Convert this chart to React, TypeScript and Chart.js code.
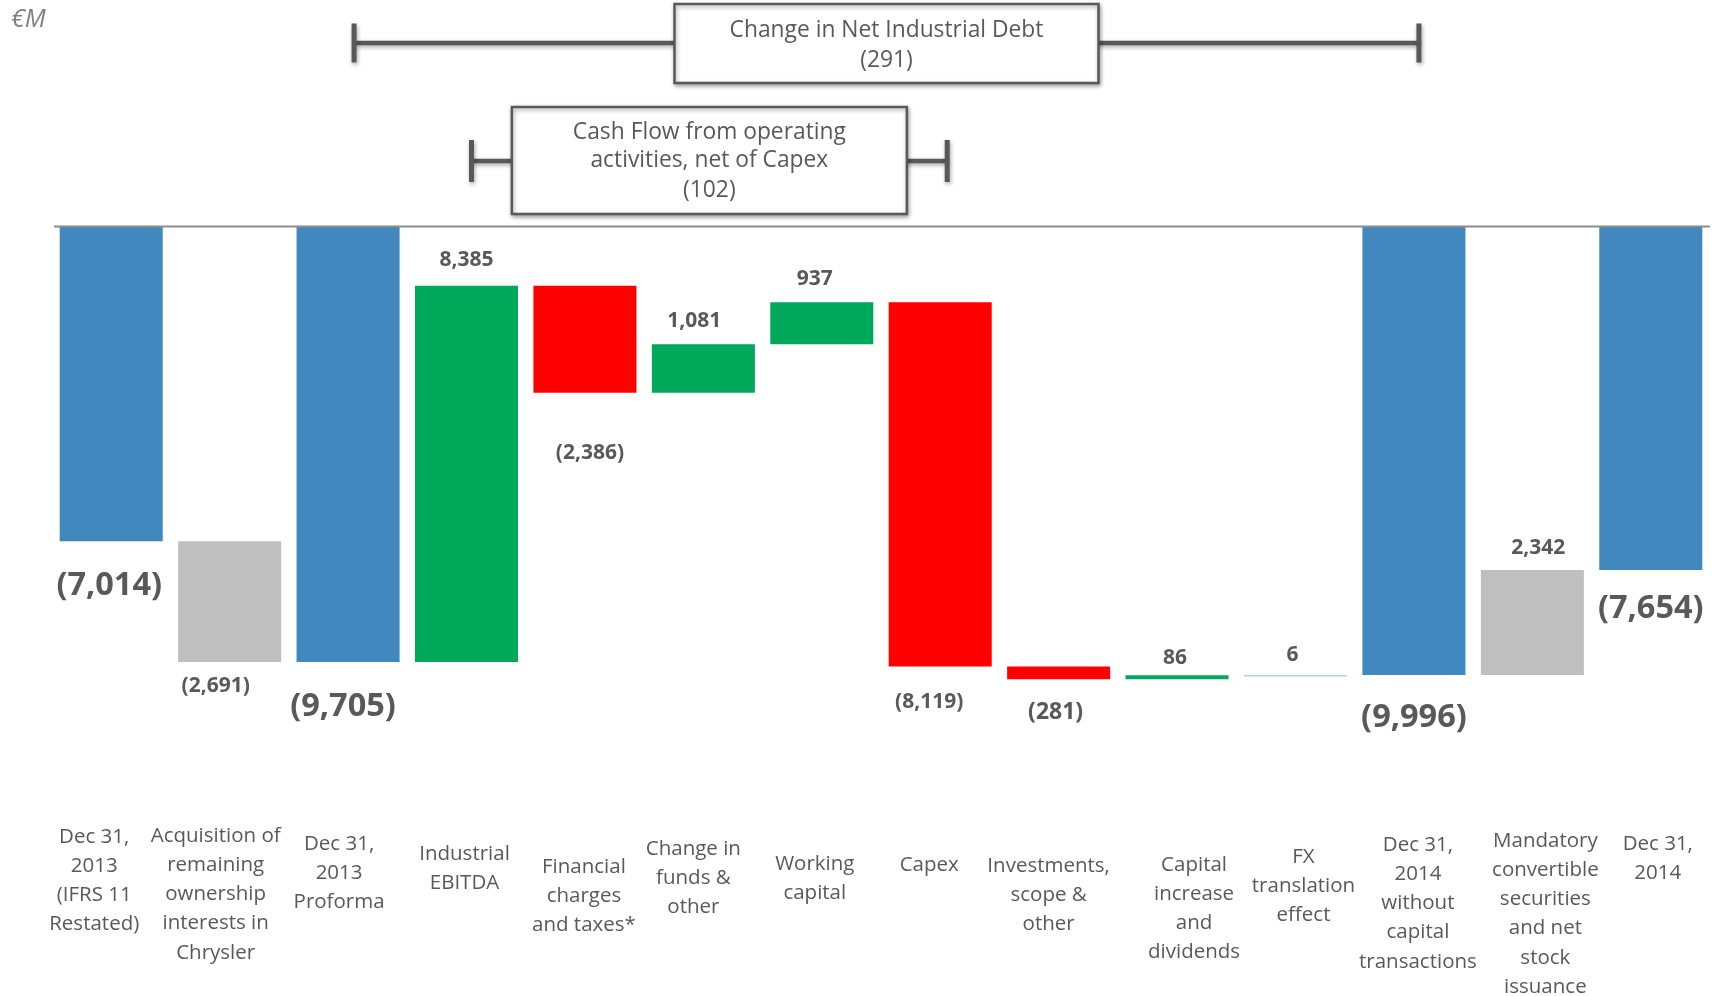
import React, { useEffect, useRef } from "react";
import { Chart, registerables } from "chart.js";

Chart.register(...registerables);

// ---------------- DATA ----------------
const categories: string[][] = [
  ["Dec 31,", "2013", "(IFRS 11", "Restated)"],
  ["Acquisition of", "remaining", "ownership", "interests in", "Chrysler"],
  ["Dec 31,", "2013", "Proforma"],
  ["Industrial", "EBITDA"],
  ["Financial", "charges", "and taxes*"],
  ["Change in", "funds &", "other"],
  ["Working", "capital"],
  ["Capex"],
  ["Investments,", "scope &", "other"],
  ["Capital", "increase", "and", "dividends"],
  ["FX", "translation", "effect"],
  ["Dec 31,", "2014", "without", "capital", "transactions"],
  ["Mandatory", "convertible", "securities", "and net", "stock", "issuance"],
  ["Dec 31,", "2014"],
];

const stepValues: number[] = [-7014, -2691, -9705, 8385, -2386, 1081, 937, -8119, -281, 86, 6, -9996, 2342, -7654];

const stepKinds: string[] = [
  "total", "adjust", "total", "change", "change", "change", "change",
  "change", "change", "change", "change", "total", "adjust", "total",
];

const valueLabels: string[] = [
  "(7,014)", "(2,691)", "(9,705)", "8,385", "(2,386)", "1,081", "937",
  "(8,119)", "(281)", "86", "6", "(9,996)", "2,342", "(7,654)",
];

const bracketOuterTitle: string[] = ["Change in Net Industrial Debt", "(291)"];
const bracketOuterSpan: number[] = [2, 11];
const bracketInnerTitle: string[] = ["Cash Flow from operating", "activities, net of Capex", "(102)"];
const bracketInnerSpan: number[] = [3, 7];

const unitLabel = "€M";

// ---------------- STYLE / LAYOUT ----------------
const BAR_COLORS: string[] = [
  "#4088BE", "#BFBFBF", "#4088BE", "#00A859", "#FF0000", "#00A859", "#00A859",
  "#FF0000", "#FF0000", "#00A859", "#A6DCCB", "#4088BE", "#BFBFBF", "#4088BE",
];
// value label: [dx, dy from bar edge, font size]
const VALUE_LABEL_LAYOUT: number[][] = [
  [-2, 44, 32.5], [-14, 24, 21], [-5, 45, 32.5], [0, -26, 21], [5, 60, 21], [-9, -23, 21], [-7, -23, 21],
  [-11, 35, 21], [-3, 33, 23], [-2, -17, 21], [-3, -20, 21], [0, 43, 32.5], [6, -22, 21], [0, 39, 32.5],
];
// tick label: [dx, y of first line center]
const TICK_LAYOUT: number[][] = [
  [-17, 837], [-14, 836], [-9, 844], [-2, 854], [-1, 867], [-10, 849], [-7, 864],
  [-11, 865], [-10, 866], [17, 865], [8, 857], [4, 845], [13, 841], [7, 844],
];
const TEXT_COLOR = "#595959";
const FONT = "'Open Sans', 'Noto Sans', sans-serif";

function buildRanges(): [number, number][] {
  const out: [number, number][] = [];
  let running = 0;
  stepValues.forEach((v, i) => {
    if (stepKinds[i] === "total") {
      out.push([0, v]);
      running = v;
    } else {
      out.push([running, running + v]);
      running += v;
    }
  });
  return out;
}

const overlayPlugin = {
  id: "overlay",
  afterDatasetsDraw(chart: any) {
    const ctx: CanvasRenderingContext2D = chart.ctx;
    const xs = chart.scales.x;
    const ys = chart.scales.y;
    const area = chart.chartArea;
    const ranges = chart.data.datasets[0].data as [number, number][];

    ctx.save();
    // zero line
    const y0 = ys.getPixelForValue(0);
    ctx.strokeStyle = "#8C8C8C";
    ctx.lineWidth = 2;
    ctx.beginPath();
    ctx.moveTo(area.left + 2, y0);
    ctx.lineTo(area.right, y0);
    ctx.stroke();

    // value labels
    ctx.fillStyle = TEXT_COLOR;
    ctx.textAlign = "center";
    ctx.textBaseline = "middle";
    ranges.forEach((r, i) => {
      const [dx, dy, fs] = VALUE_LABEL_LAYOUT[i];
      const top = ys.getPixelForValue(Math.max(r[0], r[1]));
      const bottom = ys.getPixelForValue(Math.min(r[0], r[1]));
      const edge = dy < 0 ? top : bottom;
      ctx.font = `bold ${fs}px ${FONT}`;
      ctx.fillText(valueLabels[i], xs.getPixelForValue(i) + dx, edge + dy);
    });

    // category labels
    ctx.font = `20.5px ${FONT}`;
    categories.forEach((lines, i) => {
      const [dx, y1] = TICK_LAYOUT[i];
      lines.forEach((ln, k) => {
        ctx.fillText(ln, xs.getPixelForValue(i) + dx, y1 + k * 29.2);
      });
    });

    // unit label
    ctx.textAlign = "left";
    ctx.fillStyle = "#7F7F7F";
    ctx.font = `italic 25px ${FONT}`;
    ctx.fillText(unitLabel, 11, 20);

    const drawBracket = (
      x1: number, x2: number, y: number, half: number,
      boxW: number, boxTop: number, boxH: number, lines: string[], lineYs: number[]
    ) => {
      ctx.save();
      ctx.shadowColor = "rgba(0,0,0,0.35)";
      ctx.shadowBlur = 4;
      ctx.shadowOffsetX = 1;
      ctx.shadowOffsetY = 2;
      ctx.strokeStyle = "#595959";
      ctx.lineWidth = 4.5;
      ctx.beginPath();
      ctx.moveTo(x1, y);
      ctx.lineTo(x2, y);
      ctx.stroke();
      ctx.lineWidth = 5;
      ctx.beginPath();
      ctx.moveTo(x1, y - half);
      ctx.lineTo(x1, y + half);
      ctx.moveTo(x2, y - half);
      ctx.lineTo(x2, y + half);
      ctx.stroke();
      const cx = (x1 + x2) / 2;
      ctx.fillStyle = "#FFFFFF";
      ctx.fillRect(cx - boxW / 2, boxTop, boxW, boxH);
      ctx.lineWidth = 2.5;
      ctx.strokeRect(cx - boxW / 2, boxTop, boxW, boxH);
      ctx.restore();
      ctx.fillStyle = TEXT_COLOR;
      ctx.textAlign = "center";
      ctx.textBaseline = "middle";
      ctx.font = `22.8px ${FONT}`;
      lines.forEach((ln, k) => ctx.fillText(ln, cx, lineYs[k]));
    };

    drawBracket(
      xs.getPixelForValue(bracketOuterSpan[0]) + 6, xs.getPixelForValue(bracketOuterSpan[1]) + 5,
      43, 19.5, 424, 4, 79, bracketOuterTitle, [31, 61]
    );
    drawBracket(
      xs.getPixelForValue(bracketInnerSpan[0]) + 5, xs.getPixelForValue(bracketInnerSpan[1]) + 7,
      161, 21, 395, 107, 107, bracketInnerTitle, [133, 161, 191]
    );
    ctx.restore();
  },
};

export default function App() {
  const ref = useRef<HTMLCanvasElement | null>(null);
  useEffect(() => {
    if (!ref.current) return;
    const ranges = buildRanges();
    const chart = new Chart(ref.current, {
      type: "bar",
      data: {
        labels: categories.map((c) => c.join(" ")),
        datasets: [
          {
            data: ranges as any,
            backgroundColor: BAR_COLORS,
            borderWidth: 0,
            borderSkipped: false,
            minBarLength: 1.5,
            barPercentage: 0.87,
            categoryPercentage: 1,
          },
        ],
      },
      options: {
        animation: false,
        responsive: false,
        maintainAspectRatio: false,
        devicePixelRatio: 1,
        layout: { padding: { top: 226.5, bottom: 231, left: 52, right: 11 } },
        plugins: { legend: { display: false }, tooltip: { enabled: false } },
        scales: {
          x: { display: false },
          y: { display: false, min: -12000, max: 0 },
        },
      },
      plugins: [overlayPlugin],
    });
    return () => chart.destroy();
  }, []);
  return (
    <div style={{ position: "fixed", left: 0, top: 0, width: 1721, height: 996, background: "#fff" }}>
      <canvas ref={ref} width={1721} height={996} style={{ width: 1721, height: 996 }} />
    </div>
  );
}
